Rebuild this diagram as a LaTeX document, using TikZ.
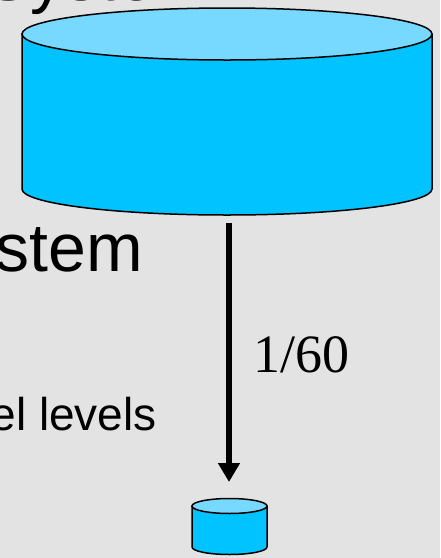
\documentclass[tikz,border=0pt]{standalone}
\usepackage{fontspec}
\setmainfont{Liberation Sans}
\newfontfamily\serifnum{Liberation Serif}
\usetikzlibrary{arrows.meta}
\definecolor{bg}{RGB}{227,227,227}
\definecolor{cyltop}{RGB}{119,217,255}
\definecolor{cylbody}{RGB}{0,195,255}
\begin{document}
\begin{tikzpicture}[x=1pt,y=-1pt,
  cylline/.style={draw=black, line width=1.5pt},
  bigtext/.style={inner sep=0pt, font=\fontsize{68}{80}\selectfont},
  midtext/.style={inner sep=0pt, font=\fontsize{46}{54}\selectfont},
  ratelabel/.style={inner sep=0pt, font=\serifnum\fontsize{54}{60}\selectfont},
  flow/.style={line width=6pt, -{Triangle[width=21pt,length=19pt]}}]
\fill[bg] (0,0) rectangle (440,558);
\useasboundingbox (0,0) rectangle (440,558);
\clip (0,0) rectangle (440,558);

% slide text behind the drawing
\node[bigtext, anchor=base west] (title) at (-15,0) {System};
\node[bigtext, anchor=base east] (word) at (143,271) {ystem};
\node[midtext, anchor=base east] (levels) at (157,430) {el levels};

% large disk
\filldraw[fill=cylbody, cylline] (22,34) -- (22,189)
  arc[start angle=180, end angle=0, x radius=205, y radius=26] -- (432,34) -- cycle;
\filldraw[fill=cyltop, cylline] (227,34) ellipse[x radius=205, y radius=26];

% small disk
\filldraw[fill=cylbody, cylline] (192,506) -- (192,547)
  arc[start angle=180, end angle=0, x radius=37.5, y radius=7.5] -- (267,506) -- cycle;
\filldraw[fill=cyltop, cylline] (229.5,506) ellipse[x radius=37.5, y radius=7.5];

% transfer arrow
\coordinate (diskbase) at (229,223);
\coordinate (cupbrim) at (229,482);
\draw[flow] (diskbase) -- (cupbrim);
\node[ratelabel, anchor=base west] (rate) at (253,372) {1/60};
\end{tikzpicture}
\end{document}
